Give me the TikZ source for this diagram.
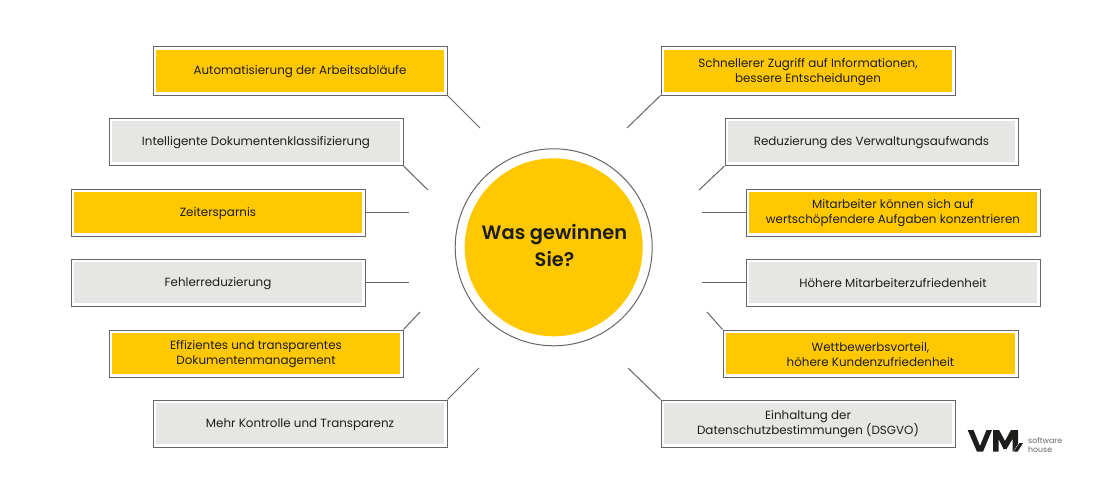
\documentclass[tikz,border=0pt]{standalone}
\usepackage{fontspec}
\setmainfont{Poppins}
\newfontfamily\titlefont{Poppins SemiBold}
\definecolor{gold}{HTML}{FFC800}
\definecolor{lgray}{HTML}{E6E6E5}
\definecolor{frame}{HTML}{666666}
\definecolor{ink}{HTML}{1D1D1B}
\tikzset{
  conn/.style={draw=frame,line width=1pt},
  fillbox/.style={fill=#1,inner sep=0pt},
  boxtext/.style={text=ink,align=center,inner sep=0pt,font=\fontsize{11.9}{15}\selectfont},
}
\usetikzlibrary{calc}
% name, left, top, right, bottom, fill, text
\newcommand{\bx}[7]{%
  \path let \n1={#4-#2},\n2={#5-#3} in
    node[draw=frame,line width=1pt,fill=white,inner sep=0pt,minimum width=\n1*1pt,minimum height=\n2*1pt] (#1) at ({(#2+#4)/2},{(#3+#5)/2}) {};
  \path let \n1={#4-#2-6.2},\n2={#5-#3-6.2} in
    node[fillbox=#6,minimum width=\n1*1pt,minimum height=\n2*1pt] (#1f) at ({(#2+#4)/2},{(#3+#5)/2}) {};
  \node[boxtext,yshift=-0.8pt] (#1t) at (#1f) {#7};
}
\begin{document}
\begin{tikzpicture}[x=1pt,y=-1pt]
\useasboundingbox (0,0) rectangle (1110,495);
\fill[white] (0,0) rectangle (1110,495);
\bx{la}{153}{47}{447}{95}{gold}{Automatisierung der Arbeitsabläufe}
\bx{lb}{109}{118}{403}{165.5}{lgray}{Intelligente Dokumentenklassifizierung}
\bx{lc}{71}{189}{365}{236}{gold}{Zeitersparnis}
\bx{ld}{71}{259}{365}{306}{lgray}{Fehlerreduzierung}
\bx{le}{109}{330}{403}{377}{gold}{Effizientes und transparentes\\Dokumentenmanagement}
\bx{lf}{153}{400}{447}{447}{lgray}{Mehr Kontrolle und Transparenz}
\bx{ra}{661}{47}{955}{95}{gold}{Schnellerer Zugriff auf Informationen,\\bessere Entscheidungen}
\bx{rb}{725}{118}{1018}{165.5}{lgray}{Reduzierung des Verwaltungsaufwands}
\bx{rc}{746}{189}{1040}{236}{gold}{Mitarbeiter können sich auf\\wertschöpfendere Aufgaben konzentrieren}
\bx{rd}{746}{259}{1040}{306}{lgray}{Höhere Mitarbeiterzufriedenheit}
\bx{re}{723}{330}{1018}{377}{gold}{Wettbewerbsvorteil,\\höhere Kundenzufriedenheit}
\bx{rf}{661}{400}{955}{447}{lgray}{Einhaltung der\\Datenschutzbestimmungen (DSGVO)}
\node[circle,draw=frame,line width=1pt,minimum size=197pt,inner sep=0pt] (ring) at (553.7,247.3) {};
\node[circle,fill=gold,minimum size=178pt,inner sep=0pt] (hub) at (553.7,247.3) {};
\node[text=ink,inner sep=0pt,align=center,font=\fontsize{19.4}{27}\titlefont] (hubt) at (554.5,245.5) {Was gewinnen\\Sie?};
\coordinate (ela) at (480,128);
\coordinate (elb) at (428,190);
\coordinate (elc) at (409,212.5);
\coordinate (eld) at (409,282.5);
\coordinate (ele) at (420,312);
\coordinate (elf) at (479,368);
\coordinate (era) at (627,128);
\coordinate (erb) at (699,190);
\coordinate (erc) at (702,212.5);
\coordinate (erd) at (702,282.5);
\coordinate (ere) at (707,312);
\coordinate (erf) at (628,368);
\draw[conn] (la.south east) -- (ela);
\draw[conn] (lb.south east) -- (elb);
\draw[conn] (lc.east) -- (elc);
\draw[conn] (ld.east) -- (eld);
\draw[conn] (le.north east) -- (ele);
\draw[conn] (lf.north east) -- (elf);
\draw[conn] (ra.south west) -- (era);
\draw[conn] (rb.south west) -- (erb);
\draw[conn] (rc.west) -- (erc);
\draw[conn] (rd.west) -- (erd);
\draw[conn] (re.north west) -- (ere);
\draw[conn] (rf.north west) -- (erf);
% logo
\fill[ink] (967.7,430) -- (973.5,430) -- (980,446) -- (986.5,430) -- (992,430) -- (983,451.7) -- (977,451.7) -- cycle;
\fill[ink] (993,451.7) -- (993,430) -- (999,430) -- (1005,441) -- (1011,430) -- (1018,430) -- (1018,444) -- (1013,451.7) -- (1012.5,451.7) -- (1012.5,439) -- (1006.5,449) -- (1003.5,449) -- (998.5,439) -- (998.5,451.7) -- cycle;
\fill[ink] (1013.5,451.7) -- (1019.5,443) -- (1023,443) -- (1017.5,451.7) -- cycle;
\node[anchor=west,text=frame,inner sep=0pt,align=left,font=\fontsize{7.8}{8.2}\selectfont] (logotext) at (1028,445) {software\\house};
\end{tikzpicture}
\end{document}
